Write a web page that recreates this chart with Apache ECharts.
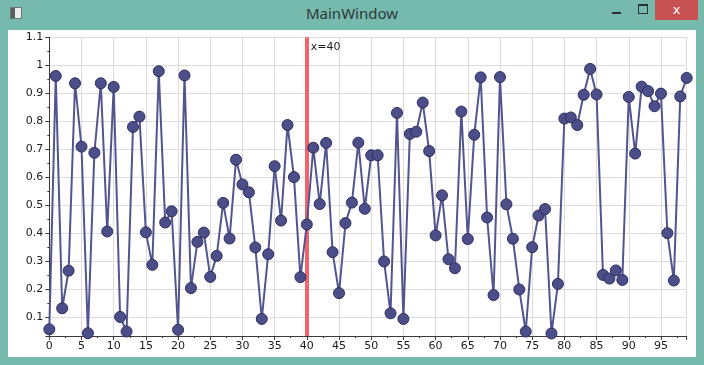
<!DOCTYPE html>
<html>
<head>
<meta charset="utf-8">
<script src="https://cdn.jsdelivr.net/npm/echarts@6/dist/echarts.min.js"></script>
<style>
  html, body { margin: 0; padding: 0; }
  body { width: 704px; height: 365px; background: #76B9AD; position: relative; overflow: hidden; font-family: "Noto Sans", sans-serif; }
  #title { position: absolute; left: 0; top: 3px; width: 704px; text-align: center; font-size: 15px; color: #2c3a39; line-height: 20px; }
  #icon { position: absolute; left: 10px; top: 7px; width: 10px; height: 10px; background: #e9eceb; border: 1px solid #6b7674; }
  #icon:before { content: ""; position: absolute; left: 0; top: 0; width: 4px; height: 10px; background: #56605f; }
  #min { position: absolute; left: 612px; top: 12px; width: 9px; height: 2px; background: #263231; }
  #max { position: absolute; left: 638px; top: 4px; width: 8px; height: 7px; border: 1px solid #263231; border-top-width: 2px; }
  #close { position: absolute; left: 655px; top: 0; width: 43px; height: 20px; background: #C75050; color: #fff; text-align: center; font-size: 13px; line-height: 19px; font-family: "DejaVu Sans", sans-serif; }
  #panel { position: absolute; left: 8px; top: 30px; width: 688px; height: 327px; background: #ffffff; }
  #chart { width: 688px; height: 327px; }
</style>
</head>
<body>
<div id="icon"></div>
<div id="title">MainWindow</div>
<div id="min"></div>
<div id="max"></div>
<div id="close">x</div>
<div id="panel"><div id="chart"></div></div>
<script>
// Data
const xIndex = [];
for (let i = 0; i < 100; i++) xIndex.push(i);
const yValues = [
  0.058, 0.962, 0.133, 0.267, 0.936, 0.710, 0.044, 0.688, 0.936, 0.407,
  0.923, 0.102, 0.050, 0.780, 0.817, 0.404, 0.288, 0.979, 0.439, 0.479,
  0.056, 0.964, 0.205, 0.370, 0.403, 0.245, 0.320, 0.509, 0.382, 0.663,
  0.575, 0.547, 0.350, 0.095, 0.326, 0.640, 0.446, 0.787, 0.601, 0.244,
  0.432, 0.706, 0.505, 0.723, 0.333, 0.187, 0.437, 0.510, 0.724, 0.488,
  0.679, 0.679, 0.300, 0.115, 0.830, 0.095, 0.755, 0.763, 0.867, 0.694,
  0.393, 0.536, 0.308, 0.276, 0.835, 0.380, 0.752, 0.957, 0.457, 0.180,
  0.958, 0.504, 0.381, 0.200, 0.050, 0.351, 0.464, 0.487, 0.043, 0.220,
  0.810, 0.814, 0.787, 0.895, 0.987, 0.896, 0.252, 0.239, 0.268, 0.234,
  0.887, 0.685, 0.924, 0.908, 0.854, 0.899, 0.401, 0.232, 0.889, 0.955
];
const markerX = 40;
const markerLabel = 'x=40';
const xRange = [0, 99];
const yRange = [0.034, 1.1];

const seriesData = xIndex.map((x, i) => [x, yValues[i]]);

const chart = echarts.init(document.getElementById('chart'), null, { renderer: 'canvas' });
const labelFont = { fontFamily: 'DejaVu Sans', fontSize: 11, color: '#1b1b1b' };
chart.setOption({
  animation: false,
  grid: { left: 41.3, top: 7.3, right: 9.3, bottom: 21, containLabel: false },
  xAxis: {
    type: 'value', min: xRange[0], max: xRange[1], interval: 5,
    axisLine: { show: true, lineStyle: { color: '#3a3a3a', width: 1 } },
    axisTick: { show: true, length: 4, lineStyle: { color: '#3a3a3a' } },
    minorTick: { show: true, splitNumber: 2, length: 2, lineStyle: { color: '#3a3a3a' } },
    axisLabel: Object.assign({ margin: 5, showMaxLabel: false }, labelFont),
    splitLine: { show: true, lineStyle: { color: '#dcdcdc', width: 1 } }
  },
  yAxis: {
    type: 'value', min: yRange[0], max: yRange[1], splitNumber: 10, minInterval: 0.1, maxInterval: 0.1,
    axisLine: { show: true, lineStyle: { color: '#3a3a3a', width: 1 } },
    axisTick: { show: true, length: 4, lineStyle: { color: '#3a3a3a' } },
    minorTick: { show: true, splitNumber: 2, length: 2, lineStyle: { color: '#3a3a3a' } },
    axisLabel: Object.assign({ margin: 6, showMinLabel: false }, labelFont),
    splitLine: { show: true, lineStyle: { color: '#dcdcdc', width: 1 } }
  },
  series: [{
    type: 'line',
    data: seriesData,
    symbol: 'circle',
    symbolSize: 11,
    showAllSymbol: true,
    clip: false,
    lineStyle: { color: '#52558f', width: 2 },
    itemStyle: { color: '#4b4e88', borderColor: '#2c2e5e', borderWidth: 1 },
    markLine: {
      silent: true,
      symbol: 'none',
      label: { show: false },
      lineStyle: { color: '#f2545c', width: 4, type: 'solid', opacity: 0.9 },
      data: [{ xAxis: markerX }],
      z: 1
    },
    markPoint: {
      silent: true,
      symbol: 'circle',
      symbolSize: 0,
      data: [{ coord: [markerX, yRange[1]] }],
      label: {
        show: true, position: 'right', distance: 4, offset: [0, 10],
        formatter: markerLabel, fontFamily: 'DejaVu Sans', fontSize: 11, color: '#1b1b1b'
      }
    }
  }]
});
</script>
</body>
</html>
